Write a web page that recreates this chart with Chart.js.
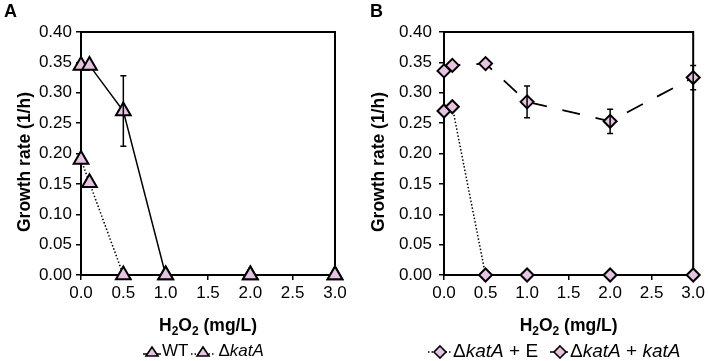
<!DOCTYPE html>
<html>
<head>
<meta charset="utf-8">
<script src="https://cdn.jsdelivr.net/npm/chart.js@4/dist/chart.umd.min.js"></script>
<style>
  body { margin: 0; background: #fff; font-family: "Liberation Sans", Arial, sans-serif; }
  #wrap { position: relative; width: 708px; height: 361px; overflow: hidden; }
  canvas { position: absolute; top: 0; }
  .legend { position: absolute; top: 342px; line-height: 18px; display: flex; align-items: center; white-space: nowrap; color: #000; }
  .legend svg { display: block; }
</style>
</head>
<body>
<div id="wrap">
  <canvas id="chartA" width="354" height="361" style="left:0"></canvas>
  <canvas id="chartB" width="354" height="361" style="left:354px"></canvas>
  <div class="legend" style="left:143px; font-size:17px">
    <svg width="18" height="16"><line x1="0" y1="11" x2="18" y2="11" stroke="#000" stroke-width="1.5"/><polygon points="9,4 15,13 3,13" fill="#e6c3e0" stroke="#000" stroke-width="1.6"/></svg>
    <span style="margin-left:1px">WT</span>
    <svg width="30" height="16"><line x1="3" y1="11" x2="27" y2="11" stroke="#000" stroke-width="1.5" stroke-dasharray="1.5,2"/><polygon points="15,4 21,13 9,13" fill="#e6c3e0" stroke="#000" stroke-width="1.6"/></svg>
    <span>&Delta;<i>katA</i></span>
  </div>
  <div class="legend" style="left:427px; font-size:19px">
    <svg width="26" height="16"><line x1="1" y1="9" x2="25" y2="9" stroke="#000" stroke-width="1.5" stroke-dasharray="1.5,2"/><polygon points="13,3 19,9 13,15 7,9" fill="#e6c3e0" stroke="#000" stroke-width="1.6"/></svg>
    <span style="margin-right:12px">&Delta;<i>katA</i> + E</span>
    <svg width="18" height="16"><line x1="0" y1="9" x2="18" y2="9" stroke="#000" stroke-width="1.5"/><polygon points="10,3 16,9 10,15 4,9" fill="#e6c3e0" stroke="#000" stroke-width="1.6"/></svg>
    <span style="margin-left:2px">&Delta;<i>katA</i> + <i>katA</i></span>
  </div>
</div>
<script>
// H2O2 concentrations (mg/L)
const doses = [0, 0.1, 0.5, 1, 2, 3];

// Panel A
const wtRate = [0.345, 0.345, 0.27, 0, 0, 0];
const wtErr = [0, 0, 0.058, 0, 0, 0];
const katARate = [0.19, 0.152, 0, 0, 0, 0];
const katAErr = [0, 0, 0, 0, 0, 0];

// Panel B
const katAERate = [0.27, 0.277, 0, 0, 0, 0];
const katAEErr = [0, 0, 0, 0, 0, 0];
const katACompRate = [0.336, 0.345, 0.348, 0.285, 0.253, 0.325];
const katACompErr = [0, 0, 0, 0.026, 0.02, 0.02];

const xTicks = [0, 0.5, 1, 1.5, 2, 2.5, 3];

const FONT = '"Liberation Sans", Arial, sans-serif';
const PINK = '#e6c3e0';

const pts = (ys) => doses.map((x, i) => ({ x: x, y: ys[i] }));

// error bars, top/right frame, axis titles and panel letter
const extras = {
  id: 'extras',
  afterDatasetsDraw(chart, args, opts) {
    const ctx = chart.ctx;
    const xs = chart.scales.x, ys = chart.scales.y;
    ctx.save();
    ctx.strokeStyle = '#000';
    ctx.lineWidth = 1.5;
    chart.data.datasets.forEach((ds) => {
      if (!ds.errors) return;
      ds.data.forEach((p, i) => {
        const e = ds.errors[i];
        if (!e) return;
        const px = xs.getPixelForValue(p.x);
        const top = ys.getPixelForValue(p.y + e);
        const bot = ys.getPixelForValue(p.y - e);
        ctx.beginPath();
        ctx.moveTo(px, top); ctx.lineTo(px, bot);
        ctx.moveTo(px - 3, top); ctx.lineTo(px + 3, top);
        ctx.moveTo(px - 3, bot); ctx.lineTo(px + 3, bot);
        ctx.stroke();
      });
    });
    ctx.restore();
  },
  beforeDatasetsDraw(chart, args, opts) {
    const ctx = chart.ctx;
    const a = chart.chartArea;
    ctx.save();
    ctx.strokeStyle = '#000';
    ctx.lineWidth = 2;
    ctx.beginPath();
    ctx.moveTo(a.left, a.top); ctx.lineTo(a.right, a.top); ctx.lineTo(a.right, a.bottom);
    ctx.stroke();
    ctx.fillStyle = '#000';
    // panel letter
    ctx.font = 'bold 18px ' + FONT;
    ctx.textAlign = 'left';
    ctx.textBaseline = 'alphabetic';
    ctx.fillText(opts.letter, opts.letterX, 17);
    // y title
    ctx.save();
    ctx.translate(opts.yTitleX, 162);
    ctx.rotate(-Math.PI / 2);
    ctx.font = 'bold 17.5px ' + FONT;
    ctx.textAlign = 'center';
    ctx.textBaseline = 'middle';
    ctx.fillText('Growth rate (1/h)', 0, 0);
    ctx.restore();
    // x title with subscripts
    const parts = [['H', 0], ['2', 1], ['O', 0], ['2', 1], [' (mg/L)', 0]];
    const big = 'bold 17.5px ' + FONT, small = 'bold 12px ' + FONT;
    let w = 0;
    parts.forEach((p) => { ctx.font = p[1] ? small : big; w += ctx.measureText(p[0]).width; });
    let x = (a.left + a.right) / 2 - w / 2;
    const base = 331;
    ctx.textAlign = 'left';
    parts.forEach((p) => {
      ctx.font = p[1] ? small : big;
      ctx.fillText(p[0], x, p[1] ? base + 4 : base);
      x += ctx.measureText(p[0]).width;
    });
    ctx.restore();
  }
};

function makeChart(id, datasets, o) {
  return new Chart(document.getElementById(id), {
    type: 'line',
    data: { datasets: datasets },
    options: {
      responsive: false,
      animation: false,
      layout: { padding: { top: 32, right: o.right, left: 0, bottom: 0 } },
      plugins: {
        legend: { display: false },
        tooltip: { enabled: false },
        extras: { letter: o.letter, letterX: o.letterX, yTitleX: o.yTitleX }
      },
      scales: {
        x: {
          type: 'linear', min: 0, max: 3,
          afterFit: (s) => { s.height = 86; },
          afterBuildTicks: (s) => { s.ticks = xTicks.map((v) => ({ value: v })); },
          ticks: { color: '#000', font: { family: FONT, size: 17 }, padding: 3, maxRotation: 0,
                   callback: (v) => Number(v).toFixed(1) },
          grid: { drawOnChartArea: false, color: '#000', lineWidth: 1.5, tickLength: 5 },
          border: { color: '#000', width: 2 }
        },
        y: {
          min: 0, max: 0.4,
          afterFit: (s) => { s.width = o.yWidth; },
          ticks: { stepSize: 0.05, color: '#000', font: { family: FONT, size: 17 }, padding: o.yPad,
                   callback: (v) => Number(v).toFixed(2) },
          grid: { drawOnChartArea: false, color: '#000', lineWidth: 1.5, tickLength: 5 },
          border: { color: '#000', width: 2 }
        }
      }
    },
    plugins: [extras]
  });
}

const tri = { pointStyle: 'triangle', pointRadius: 8.5, pointBorderWidth: 2, pointBackgroundColor: PINK, pointBorderColor: '#000', clip: false };
const dia = { pointStyle: 'rectRot', pointRadius: 6.5, pointBorderWidth: 2, pointBackgroundColor: PINK, pointBorderColor: '#000', clip: false };

makeChart('chartA', [
  Object.assign({ label: 'ΔkatA', data: pts(katARate), errors: katAErr, borderColor: '#000', borderWidth: 1.5, borderDash: [1.5, 2], tension: 0 }, tri),
  Object.assign({ label: 'WT', data: pts(wtRate), errors: wtErr, borderColor: '#000', borderWidth: 1.5, tension: 0 }, tri)
], { right: 19, yWidth: 81, yPad: 4, letter: 'A', letterX: 4, yTitleX: 25 });

makeChart('chartB', [
  Object.assign({ label: 'ΔkatA + E', data: pts(katAERate), errors: katAEErr, borderColor: '#000', borderWidth: 1.5, borderDash: [1.5, 2], tension: 0 }, dia),
  Object.assign({ label: 'ΔkatA + katA', data: pts(katACompRate), errors: katACompErr, borderColor: '#000', borderWidth: 1.8, borderDash: [18, 16], tension: 0 }, dia)
], { right: 11, yWidth: 90, yPad: 7, letter: 'B', letterX: 16, yTitleX: 25 });
</script>
</body>
</html>
